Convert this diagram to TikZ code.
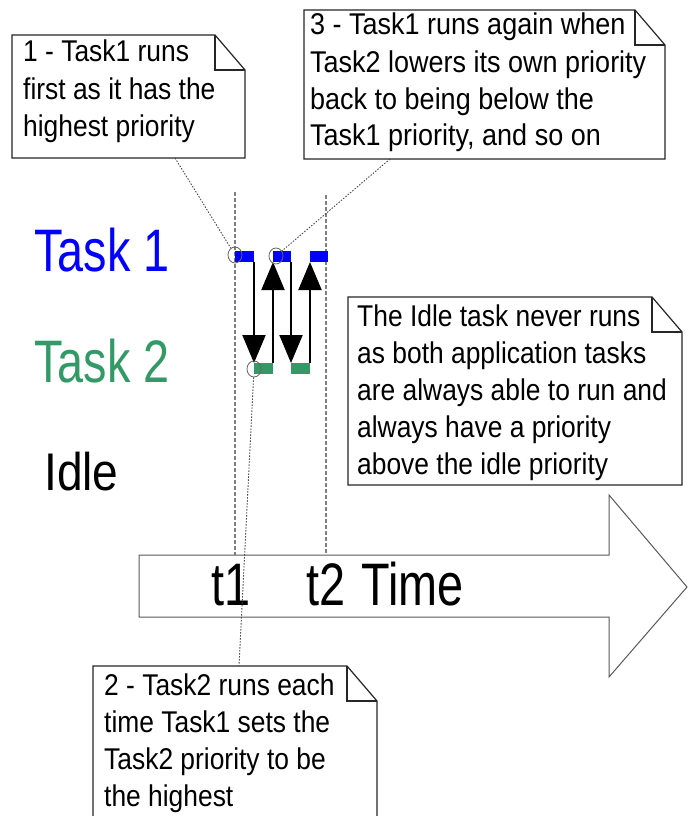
\documentclass[tikz,border=0pt]{standalone}
\usepackage{fontspec}
\setmainfont{Liberation Sans}
\newfontfamily\notefont[FakeStretch=0.88]{Liberation Sans}
\newfontfamily\notefontw[FakeStretch=0.9]{Liberation Sans}
\newfontfamily\labelfont[FakeStretch=0.78]{Liberation Sans}
\newfontfamily\idlefont[FakeStretch=0.87]{Liberation Sans}
\usetikzlibrary{arrows.meta,shapes.geometric}
\definecolor{taskblue}{RGB}{0,0,255}
\definecolor{taskgreen}{RGB}{51,153,102}
\tikzset{
  notebox/.style={draw=none, inner sep=0pt, outer sep=0pt, anchor=north west},
  noteline/.style={draw=black!85, line width=1.2pt, line join=miter},
  notetext/.style={anchor=base west, inner sep=0pt},
  leader/.style={draw=black!70, line width=0.9pt, dash pattern=on 1.5pt off 1.5pt},
  marker/.style={draw=black!50, line width=1.5pt, dash pattern=on 4pt off 2pt},
  timeline/.style={draw=black!65, fill=white, line width=1pt, line join=miter},
  bluebar/.style={fill=taskblue, inner sep=0pt, outer sep=0pt, minimum height=11pt, anchor=north west},
  greenbar/.style={fill=taskgreen, inner sep=0pt, outer sep=0pt, minimum height=11pt, anchor=north west},
  flow/.style={draw=black, line width=2pt, -{Triangle[width=23pt,length=28pt]}},
  circ/.style={ellipse, draw=black!60, line width=0.8pt, minimum width=14pt, minimum height=16pt, inner sep=0pt},
  tasklabel/.style={anchor=base west, inner sep=0pt, font=\labelfont\fontsize{60}{60}\selectfont},
  timetext/.style={anchor=base west, inner sep=0pt, font=\labelfont\fontsize{60}{60}\selectfont},
}
\newcommand\drawnote[1]{%
  \draw[noteline] (#1.north west) -- ([xshift=-30pt]#1.north east) -- ([yshift=-35pt]#1.north east) -- (#1.south east) -- (#1.south west) -- cycle;
  \draw[noteline] ([xshift=-30pt]#1.north east) -- ([xshift=-30pt,yshift=-35pt]#1.north east) -- ([yshift=-35pt]#1.north east);}
\newcommand\notetxt[1]{\parbox[t]{370pt}{\notefont\fontsize{30}{37}\selectfont\raggedright #1}}
\newcommand\notetxtw[1]{\parbox[t]{370pt}{\notefontw\fontsize{30}{37}\selectfont\raggedright #1}}
\begin{document}
\begin{tikzpicture}[x=1pt,y=-1pt]
\fill[white] (0,0) rectangle (688,816);
\useasboundingbox (0,0) rectangle (688,816);

% time markers
\coordinate (m1a) at (235,192);
\coordinate (m1b) at (235,555);
\coordinate (m2a) at (326,195);
\coordinate (m2b) at (326,555);
\draw[marker] (m1a) -- (m1b);
\draw[marker] (m2a) -- (m2b);

% timeline arrow
\draw[timeline] (139,555) -- (609,555) -- (609,495) -- (687,587) -- (609,677) -- (609,617) -- (139,617) -- cycle;
\node[timetext] (tt1) at (211,605) {t1};
\node[timetext] (tt2) at (306,605) {t2};
\node[timetext] (ttime) at (361,605) {Time};

% task labels
\node[tasklabel, text=taskblue] (task1) at (34,271) {Task 1};
\node[tasklabel, text=taskgreen] (task2) at (34,382) {Task 2};
\node[anchor=base west, inner sep=0pt, font=\idlefont\fontsize{53}{53}\selectfont] (idle) at (44,490) {Idle};

% execution bars
\node[bluebar, minimum width=19pt] (b1) at (235,251) {};
\node[bluebar, minimum width=18pt] (b2) at (273,251) {};
\node[bluebar, minimum width=18pt] (b3) at (310,251) {};
\node[greenbar, minimum width=19pt] (g1) at (254,363) {};
\node[greenbar, minimum width=19pt] (g2) at (291,363) {};

% switching arrows
\draw[flow] (b1.south east) -- (g1.north west);
\draw[flow] (g1.north east) -- (b2.south west);
\draw[flow] (b2.south east) -- (g2.north west);
\draw[flow] (g2.north east) -- (b3.south west);

% highlight circles
\node[circ] (c1) at (235,255) {};
\node[circ] (c2) at (276,256) {};
\node[circ] (c3) at (254,369) {};

% notes
\node[notebox, minimum width=233pt, minimum height=123pt] (n1) at (12,35) {};
\drawnote{n1}
\node[notetext] (n1t) at (23,62) {\notetxt{1 - Task1 runs\\first as it has the\\highest priority}};

\node[notebox, minimum width=361pt, minimum height=149pt] (n3) at (304,10) {};
\drawnote{n3}
\node[notetext] (n3t) at (310,35) {\notetxtw{3 - Task1 runs again when\\Task2 lowers its own priority\\back to being below the\\Task1 priority, and so on}};

\node[notebox, minimum width=334pt, minimum height=188pt] (ni) at (348,297) {};
\drawnote{ni}
\node[notetext] (nit) at (357,326) {\notetxt{The Idle task never runs\\as both application tasks\\are always able to run and\\always have a priority\\above the idle priority}};

\node[notebox, minimum width=284pt, minimum height=180pt] (n2) at (93,666) {};
\drawnote{n2}
\node[notetext] (n2t) at (104,695) {\notetxt{2 - Task2 runs each\\time Task1 sets the\\Task2 priority to be\\the highest}};

% leader lines
\draw[leader] ([xshift=163pt]n1.south west) -- (c1);
\draw[leader] ([xshift=86pt]n3.south west) -- (c2);
\draw[leader] (c3) -- ([xshift=146pt]n2.north west);
\end{tikzpicture}
\end{document}
